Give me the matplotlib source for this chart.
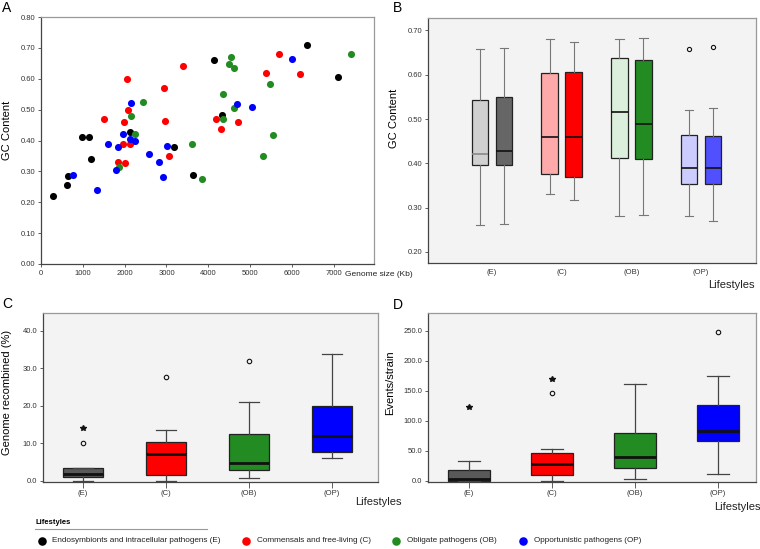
import matplotlib
matplotlib.use("Agg")
import matplotlib.pyplot as plt
import numpy as np

plt.rcParams['font.family'] = ['Liberation Sans', 'DejaVu Sans']

# ---- panel A: genome size (Kb) vs GC content, per lifestyle
e_size = [300, 620, 660, 980, 1160, 1200, 2130, 3180, 3640, 4130, 4320, 6350, 7090]
e_gc = [0.22, 0.257, 0.284, 0.41, 0.41, 0.341, 0.429, 0.38, 0.288, 0.66, 0.482, 0.709, 0.607]
c_size = [1500, 2070, 2080, 1990, 1970, 2130, 1850, 2020, 2930, 2960, 3050, 3390,
          4170, 4310, 4710, 5380, 5680, 6180]
c_gc = [0.469, 0.60, 0.50, 0.461, 0.389, 0.389, 0.331, 0.326, 0.57, 0.464, 0.35, 0.642,
        0.469, 0.437, 0.461, 0.618, 0.681, 0.614]
ob_size = [2430, 2160, 2240, 1860, 3600, 3840, 4360, 4360, 4540, 4480, 4610, 4620,
           5460, 5540, 5310, 7400]
ob_gc = [0.524, 0.48, 0.42, 0.315, 0.389, 0.276, 0.551, 0.47, 0.67, 0.649, 0.636, 0.505,
         0.584, 0.419, 0.35, 0.68]
op_size = [760, 1340, 1610, 1840, 1800, 1960, 2150, 2120, 2240, 2590, 2810, 2910, 3010,
           4690, 5040, 6000]
op_gc = [0.287, 0.24, 0.39, 0.379, 0.304, 0.42, 0.523, 0.405, 0.397, 0.356, 0.329, 0.281,
         0.381, 0.518, 0.508, 0.664]

groups = ['(E)', '(C)', '(OB)', '(OP)']
colors = ['#000000', '#ff0000', '#228b22', '#0000ff']
legend_labels = ['Endosymbionts and intracellular pathogens (E)', 'Commensals and free-living (C)',
                 'Obligate pathogens (OB)', 'Opportunistic pathogens (OP)']

# ---- panel B: GC content boxes, two per lifestyle (light, dark)
gc_lo = [0.26, 0.262, 0.33, 0.317, 0.28, 0.283, 0.28, 0.27]
gc_q1 = [0.396, 0.397, 0.375, 0.369, 0.411, 0.409, 0.354, 0.354]
gc_med = [0.42, 0.428, 0.46, 0.46, 0.515, 0.488, 0.389, 0.39]
gc_q3 = [0.544, 0.55, 0.604, 0.607, 0.638, 0.634, 0.464, 0.461]
gc_hi = [0.659, 0.66, 0.68, 0.674, 0.68, 0.683, 0.52, 0.524]
gc_out = [[], [], [], [], [], [], [0.659], [0.662]]
gc_colors = ['#d0d0d0', '#666666', '#ffaaaa', '#ff0000', '#dcefdc', '#228b22', '#ccccff', '#5050ff']

# ---- panel C: genome recombined (%)
rec_lo = [0.1, 0.0, 0.9, 6.1]
rec_q1 = [1.0, 1.7, 2.8, 7.6]
rec_med = [1.8, 7.3, 4.8, 12.0]
rec_q3 = [3.4, 10.3, 12.6, 20.1]
rec_hi = [3.4, 13.6, 21.1, 33.8]
rec_out = [[10.1], [27.8], [31.9], []]
rec_star = [[14.0], [], [], []]

# ---- panel D: events per strain
ev_lo = [0.0, 0.0, 3.9, 11.1]
ev_q1 = [0.0, 10.0, 22.2, 66.0]
ev_med = [3.5, 27.8, 39.4, 82.8]
ev_q3 = [17.8, 47.2, 80.0, 126.7]
ev_hi = [33.3, 52.8, 161.0, 174.0]
ev_out = [[], [146.0], [], [247.8]]
ev_star = [[122.8], [170.0], [], []]

box_colors = ['#595959', '#ff0000', '#228b22', '#0000ff']

W, H = 760, 549
fig = plt.figure(figsize=(7.6, 5.49), dpi=100)


def px_axes(l, t, r, b):
    return fig.add_axes([l / W, 1 - b / H, (r - l) / W, (b - t) / H])


def style_axes(ax, grey_bg=True):
    if grey_bg:
        ax.set_facecolor('#f3f3f3')
    for s in ['left', 'bottom']:
        ax.spines[s].set_color('#444444')
        ax.spines[s].set_linewidth(0.9)
    for s in ['top', 'right']:
        ax.spines[s].set_color('#999999')
        ax.spines[s].set_linewidth(0.9)
    ax.tick_params(labelsize=5.5, length=2.5, width=0.6, colors='#444444',
                   labelcolor='#333333', pad=1.5)


def make_stats(lo, q1, med, q3, hi, out):
    return [dict(whislo=a, q1=b, med=c, q3=d, whishi=e, fliers=f)
            for a, b, c, d, e, f in zip(lo, q1, med, q3, hi, out)]


# A
axA = px_axes(40.7, 17, 374, 264)
style_axes(axA, grey_bg=False)
for xs, ys, col in zip([e_size, c_size, ob_size, op_size], [e_gc, c_gc, ob_gc, op_gc], colors):
    axA.scatter(xs, ys, s=26, color=col, linewidths=0, zorder=3)
axA.set_xlim(0, 7950)
axA.set_ylim(0, 0.8)
axA.set_xticks(np.arange(0, 7001, 1000))
axA.set_yticks(np.arange(0, 0.81, 0.1))
axA.yaxis.set_major_formatter(matplotlib.ticker.FormatStrFormatter('%.2f'))
axA.set_ylabel('GC Content', fontsize=8)
axA.yaxis.set_label_coords(-0.086, 0.54)

# B
axB = px_axes(428, 18, 756, 263)
style_axes(axB)
centers_b = np.arange(1, 5)
pos_b = np.ravel([[c - 0.172, c + 0.172] for c in centers_b])
res = axB.bxp(make_stats(gc_lo, gc_q1, gc_med, gc_q3, gc_hi, gc_out), positions=pos_b,
              widths=0.24, capwidths=0.12, patch_artist=True,
              boxprops=dict(edgecolor='#222222', linewidth=0.9),
              whiskerprops=dict(color='#777777', linewidth=0.8),
              capprops=dict(color='#777777', linewidth=0.8),
              medianprops=dict(color='#111111', linewidth=1.2),
              flierprops=dict(marker='o', markerfacecolor='none', markeredgecolor='#111111',
                              markersize=3, markeredgewidth=0.8))
for patch, col in zip(res['boxes'], gc_colors):
    patch.set_facecolor(col)
res['medians'][0].set_color('#888888')
axB.set_xlim(0.08, 4.79)
axB.set_ylim(0.175, 0.728)
axB.set_xticks(centers_b)
axB.set_xticklabels(groups)
axB.tick_params(axis='x', length=0, pad=4)
axB.set_yticks(np.arange(0.2, 0.71, 0.1))
axB.yaxis.set_major_formatter(matplotlib.ticker.FormatStrFormatter('%.2f'))
axB.set_ylabel('GC Content', fontsize=8)
axB.yaxis.set_label_coords(-0.088, 0.59)


def box_panel(ax, lo, q1, med, q3, hi, out, star, width):
    pos = np.arange(1, 5)
    res = ax.bxp(make_stats(lo, q1, med, q3, hi, out), positions=pos, widths=width,
                 capwidths=width / 2, patch_artist=True,
                 boxprops=dict(edgecolor='#222222', linewidth=0.9),
                 whiskerprops=dict(color='#444444', linewidth=0.9),
                 capprops=dict(color='#444444', linewidth=0.9),
                 medianprops=dict(color='#111111', linewidth=2),
                 flierprops=dict(marker='o', markerfacecolor='none', markeredgecolor='#111111',
                                 markersize=3.2, markeredgewidth=0.8))
    for patch, col in zip(res['boxes'], box_colors):
        patch.set_facecolor(col)
    for p, vals in zip(pos, star):
        ax.plot([p] * len(vals), vals, marker='*', color='#111111', markersize=4,
                linestyle='none')
    ax.set_xticks(pos)
    ax.set_xticklabels(groups)
    ax.tick_params(axis='x', length=4, pad=1.5)
    ax.yaxis.set_major_formatter(matplotlib.ticker.FormatStrFormatter('%.1f'))


# C
axC = px_axes(42.7, 313.3, 378, 482)
style_axes(axC)
box_panel(axC, rec_lo, rec_q1, rec_med, rec_q3, rec_hi, rec_out, rec_star, 0.48)
axC.set_xlim(0.514, 4.554)
axC.set_ylim(-0.3, 44.7)
axC.set_yticks(np.arange(0, 41, 10))
axC.set_ylabel('Genome recombined (%)', fontsize=8)
axC.yaxis.set_label_coords(-0.093, 0.53)

# D
axD = px_axes(427.7, 313.3, 756, 482)
style_axes(axD)
box_panel(axD, ev_lo, ev_q1, ev_med, ev_q3, ev_hi, ev_out, ev_star, 0.51)
axD.set_xlim(0.502, 4.458)
axD.set_ylim(-1.7, 279)
axD.set_yticks(np.arange(0, 251, 50))
axD.set_ylabel('Events/strain', fontsize=8)
axD.yaxis.set_label_coords(-0.1, 0.587)

# overlay in pixel coords for letters, axis titles and legend
ov = fig.add_axes([0, 0, 1, 1], zorder=-1)
ov.set_xlim(0, W)
ov.set_ylim(H, 0)
ov.axis('off')
for letter, x, y in [('A', 7, 8), ('B', 398, 8), ('C', 7, 304), ('D', 398, 305)]:
    ov.text(x, y, letter, fontsize=10, ha='center', va='center')
ov.text(345, 274, 'Genome size (Kb)', fontsize=6, ha='left', va='center', color='#222222')
ov.text(731, 285, 'Lifestyles', fontsize=8, ha='center', va='center', color='#222222')
ov.text(378, 502, 'Lifestyles', fontsize=8, ha='center', va='center', color='#222222')
ov.text(737, 507, 'Lifestyles', fontsize=8, ha='center', va='center', color='#222222')

ov.text(35, 522.5, 'Lifestyles', fontsize=5.5, fontweight='bold', ha='left', va='center')
ov.plot([35, 207], [529, 529], color='#999999', linewidth=0.8)
leg_dot_x = [41.5, 246, 396, 523]
for x, col, lab in zip(leg_dot_x, colors, legend_labels):
    ov.scatter([x], [541], s=38, color=col, linewidths=0)
    ov.text(x + 11, 541, lab, fontsize=5.9, ha='left', va='center', color='#222222')

fig.savefig('out.png', dpi=100)
